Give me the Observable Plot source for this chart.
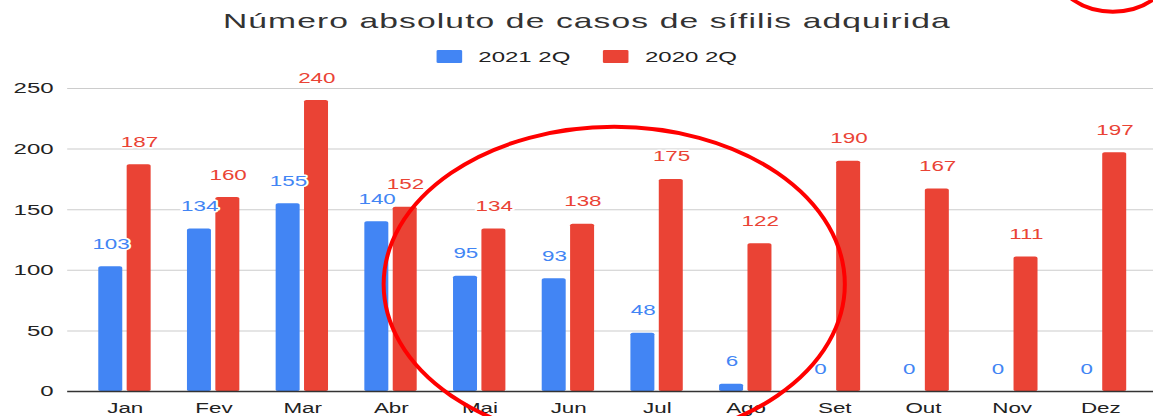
<!DOCTYPE html>
<html>
<head>
<meta charset="utf-8">
<script src="https://cdn.jsdelivr.net/npm/d3@7"></script>
<script src="https://cdn.jsdelivr.net/npm/@observablehq/plot@0.6"></script>
<style>
  html, body { margin: 0; padding: 0; background: #fff; overflow: hidden; }
  #page { position: relative; width: 1153px; height: 416px; overflow: hidden; }
  #wrap { position: absolute; left: 0; top: 0; width: 721px; height: 416px; transform-origin: 0 0; font-family: "Liberation Sans", Arial, sans-serif; }
  #title { position: absolute; left: 0; top: 9.5px; width: 721px; padding-left: 13px; box-sizing: border-box; text-align: center; font-size: 21px; line-height: 21px; letter-spacing: 0.7px; color: #333; white-space: nowrap; }
  #legend { position: absolute; left: 273px; top: 49.3px; height: 15px; display: flex; align-items: center; font-size: 15px; line-height: 15px; color: #222; white-space: nowrap; }
  #legend .sw { display: inline-block; width: 15.5px; height: 13px; border-radius: 1px; }
  #chart { position: absolute; left: 0; top: 68px; }
  #overlay { position: absolute; left: 0; top: 0; pointer-events: none; }
</style>
</head>
<body>
<div id="page">
  <div id="wrap">
    <div id="title"></div>
    <div id="legend"></div>
    <div id="chart"></div>
  </div>
</div>
<script>
// ---- data ----
const title = "Número absoluto de casos de sífilis adquirida";
const months = ["Jan", "Fev", "Mar", "Abr", "Mai", "Jun", "Jul", "Ago", "Set", "Out", "Nov", "Dez"];
const seriesNames = ["2021 2Q", "2020 2Q"];
const values2021 = [103, 134, 155, 140, 95, 93, 48, 6, 0, 0, 0, 0];
const values2020 = [187, 160, 240, 152, 134, 138, 175, 122, 190, 167, 111, 197];
const yTicks = [0, 50, 100, 150, 200, 250];
const seriesColors = ["#4285f4", "#ea4335"];

// ---- layout ----
const PAGE_W = 1153, W = 721, S = PAGE_W / W;
const H = 348, TOP = 68;
const BAR_W = 15, GAP = 2.75;
const off = (BAR_W + GAP) / 2;
const xRange = [50.1, 715.6];
const step = (xRange[1] - xRange[0]) / months.length;
const inset = (step - BAR_W) / 2;

document.getElementById("wrap").style.transform = `scaleX(${S})`;
document.getElementById("title").textContent = title;

const legend = document.getElementById("legend");
seriesNames.forEach((name, i) => {
  const sw = document.createElement("span");
  sw.className = "sw";
  sw.style.background = seriesColors[i];
  sw.style.marginLeft = i === 0 ? "0px" : "20.6px";
  const t = document.createElement("span");
  t.textContent = name;
  t.style.marginLeft = "10.6px";
  legend.appendChild(sw);
  legend.appendChild(t);
});

const rows = months.flatMap((m, i) => [
  {month: m, series: seriesNames[0], value: values2021[i]},
  {month: m, series: seriesNames[1], value: values2020[i]}
]);
const rowsA = rows.filter(d => d.series === seriesNames[0]);
const rowsB = rows.filter(d => d.series === seriesNames[1]);

const labelOpts = (sign) => ({
  x: "month", y: "value", text: d => String(d.value), fill: "series",
  dx: sign * off, dy: -18, lineAnchor: "bottom", textAnchor: "middle",
  fontSize: 14, stroke: "white", strokeWidth: 3, paintOrder: "stroke"
});

const chart = Plot.plot({
  width: W, height: H,
  marginTop: 20, marginBottom: 25, marginLeft: 42, marginRight: 0,
  style: {fontFamily: "'Liberation Sans', Arial, sans-serif", background: "transparent", overflow: "visible"},
  x: {domain: months, range: xRange, padding: 0, round: false, label: null},
  y: {domain: [0, 250], label: null},
  color: {domain: seriesNames, range: seriesColors},
  marks: [
    Plot.ruleY(yTicks.filter(d => d > 0), {stroke: "#cccccc", strokeWidth: 1}),
    Plot.barY(rowsA, {x: "month", y: "value", fill: "series", dx: -off, insetLeft: inset, insetRight: inset, rx: 1.5}),
    Plot.barY(rowsB, {x: "month", y: "value", fill: "series", dx: off, insetLeft: inset, insetRight: inset, rx: 1.5}),
    Plot.ruleY([0], {stroke: "#333333", strokeWidth: 1.5}),
    Plot.axisY(yTicks, {tickSize: 0, tickPadding: 9, fontSize: 15, color: "#222", label: null}),
    Plot.axisX({tickSize: 0, tickPadding: 12, fontSize: 14, color: "#222", label: null}),
    Plot.text(rowsA, labelOpts(-1)),
    Plot.text(rowsB, labelOpts(1))
  ]
});
document.getElementById("chart").appendChild(chart);

// ---- hand-drawn annotation ellipses, placed from the plot's scales ----
const xs = chart.scale("x"), ys = chart.scale("y");
const xCenter = m => (xs.apply ? xs.apply(m) : xRange[0] + months.indexOf(m) * step) + step / 2;
const yPix = v => ys.apply ? ys.apply(v) : (H - 25) - v / 250 * (H - 45);
const svgNS = "http://www.w3.org/2000/svg";
const ov = document.createElementNS(svgNS, "svg");
ov.setAttribute("id", "overlay");
ov.setAttribute("width", PAGE_W);
ov.setAttribute("height", 416);
function ellipse(cx, cy, rx, ry) {
  const e = document.createElementNS(svgNS, "ellipse");
  e.setAttribute("cx", cx); e.setAttribute("cy", cy);
  e.setAttribute("rx", rx); e.setAttribute("ry", ry);
  e.setAttribute("fill", "none"); e.setAttribute("stroke", "#ff0000");
  e.setAttribute("stroke-width", 4);
  ov.appendChild(e);
}
// big ellipse around Mai–Ago
ellipse(S * (xCenter("Jun") + xCenter("Jul")) / 2 + 2,
        TOP + yPix(88),
        S * step * 2.6,
        yPix(0) - yPix(130));
// partial ellipse at top right (above Dez)
ellipse(S * (xCenter("Dez") + 8),
        TOP + yPix(346),
        56,
        yPix(0) - yPix(33));
document.getElementById("page").appendChild(ov);
</script>
</body>
</html>
